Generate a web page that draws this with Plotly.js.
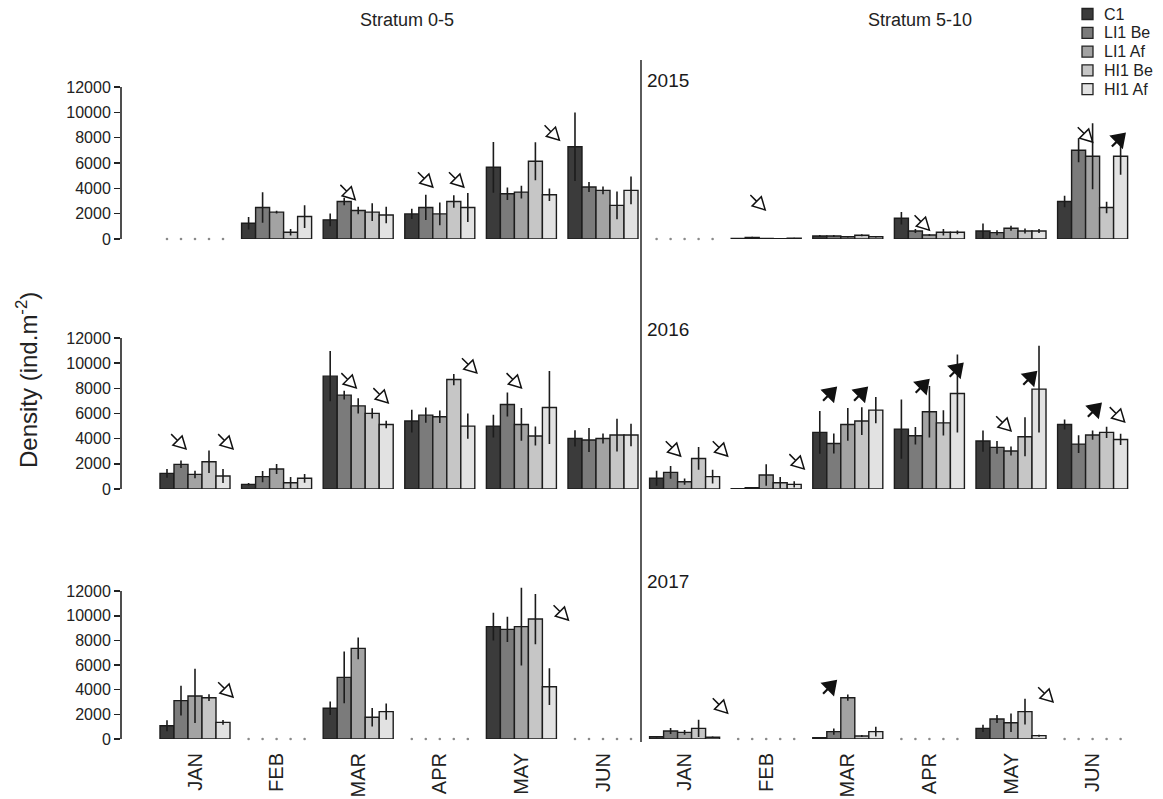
<!DOCTYPE html>
<html>
<head>
<meta charset="utf-8">
<script src="https://cdn.plot.ly/plotly-3.0.1.min.js"></script>
<style>html,body{margin:0;padding:0;background:#fff;}#chart{width:1163px;height:799px;}</style>
</head>
<body>
<div id="chart"></div>
<script>
// ---------------- DATA ----------------
const months = ['JAN','FEB','MAR','APR','MAY','JUN'];
const strata = ['Stratum 0-5','Stratum 5-10'];
const years = ['2015','2016','2017'];
const seriesNames = ['C1','LI1 Be','LI1 Af','HI1 Be','HI1 Af'];
const yTickVals = [0,2000,4000,6000,8000,10000,12000];
const yTickLabels = ['0','2000','4000','6000','8000','10000','12000'];

// each array: 6 months of Stratum 0-5 then 6 months of Stratum 5-10 (null = not sampled)
// 2015 means
const m2015_C1   = [null,1240,1510,1980,5660,7280,  null,50,240,1640,630,2960];
const m2015_LI1Be= [null,2490,2960,2490,3570,4100,  null,120,240,630,500,7010];
const m2015_LI1Af= [null,2120,2250,1980,3700,3840,  null,40,180,320,850,6530];
const m2015_HI1Be= [null,530,2120,2960,6140,2650,   null,30,300,530,630,2490];
const m2015_HI1Af= [null,1770,1900,2490,3490,3840,  null,60,180,530,630,6530];
// 2015 errors
const e2015_C1   = [null,500,500,400,2000,2700,  null,30,80,500,600,450];
const e2015_LI1Be= [null,1200,300,1000,500,400,  null,60,80,150,200,950];
const e2015_LI1Af= [null,100,300,900,500,300,    null,20,60,80,200,2600];
const e2015_HI1Be= [null,250,700,500,1500,1100,  null,20,80,250,200,450];
const e2015_HI1Af= [null,900,650,1150,500,1100,  null,40,60,150,150,1450];
// 2016 means
const m2016_C1   = [1240,370,8970,5400,5000,4020,  850,20,4500,4760,3810,5130];
const m2016_LI1Be= [1960,980,7460,5870,6720,3890,  1320,100,3620,4230,3310,3570];
const m2016_LI1Af= [1160,1590,6610,5740,5130,4020, 580,1110,5130,6140,3020,4290];
const m2016_HI1Be= [2170,500,6010,8700,4210,4290,  2430,500,5400,5260,4150,4500];
const m2016_HI1Af= [1030,850,5130,5000,6480,4290,  980,370,6270,7590,7940,3940];
// 2016 errors
const e2016_C1   = [350,100,2000,900,900,650,   600,10,1700,2350,850,400];
const e2016_LI1Be= [300,450,350,600,950,950,    500,40,800,700,500,700];
const e2016_LI1Af= [300,400,600,500,1300,400,   250,850,1300,2050,350,370];
const e2016_HI1Be= [900,450,400,450,750,1300,   900,450,1100,1000,1550,450];
const e2016_HI1Af= [550,350,300,1000,2900,900,  550,250,1050,3100,3450,450];
// 2017 means
const m2017_C1   = [1080,null,2490,null,9110,null,  190,null,100,null,860,null];
const m2017_LI1Be= [3110,null,5000,null,8890,null,  650,null,600,null,1620,null];
const m2017_LI1Af= [3490,null,7350,null,9110,null,  540,null,3350,null,1320,null];
const m2017_HI1Be= [3350,null,1760,null,9730,null,  860,null,240,null,2220,null];
const m2017_HI1Af= [1350,null,2220,null,4240,null,  140,null,600,null,270,null];
// 2017 errors
const e2017_C1   = [450,null,550,null,1130,null,   60,null,40,null,300,null];
const e2017_LI1Be= [1200,null,2100,null,1030,null, 250,null,250,null,330,null];
const e2017_LI1Af= [2200,null,880,null,3150,null,  200,null,250,null,750,null];
const e2017_HI1Be= [270,null,750,null,2040,null,   700,null,80,null,1050,null];
const e2017_HI1Af= [200,null,650,null,1490,null,   60,null,400,null,80,null];

// arrows: [yearIndex, monthSlot(0-11), value at arrow tip, kind]
const arrowYear  = [0,0,0,0,0,0,0,0, 1,1,1,1,1,1,1,1,1,1,1,1,1,1,1,1,1, 2,2,2,2,2];
const arrowSlot  = [2,3,3,4,7,9,11,11, 0,0,2,2,3,4,6,6,7,8,8,9,9,10,10,11,11, 0,4,6,8,10];
const arrowValue = [3100,4100,4100,7800,2300,700,7650,8300,
                    3180,3180,8030,6840,9220,8030,2620,2620,1590,8030,8030,8660,9940,4610,9300,6760,5330,
                    3400,9650,2100,4700,3000];
const arrowKind  = ['open','open','open','open','open','open','open','filled',
                    'open','open','open','open','open','open','open','open','open','filled','filled','filled','filled','open','filled','filled','open',
                    'open','open','open','filled','open'];
const arrowShift = [-3,-7,24,38,-1,0,0,32,
                    -9,38,-2,30,37,0,-4,43,38,-12,19,-1,33,0,25,8,32,
                    38,47,43,-12,42];

// ---------------- STYLE ----------------
const means = [
  [m2015_C1,m2015_LI1Be,m2015_LI1Af,m2015_HI1Be,m2015_HI1Af],
  [m2016_C1,m2016_LI1Be,m2016_LI1Af,m2016_HI1Be,m2016_HI1Af],
  [m2017_C1,m2017_LI1Be,m2017_LI1Af,m2017_HI1Be,m2017_HI1Af]];
const errs = [
  [e2015_C1,e2015_LI1Be,e2015_LI1Af,e2015_HI1Be,e2015_HI1Af],
  [e2016_C1,e2016_LI1Be,e2016_LI1Af,e2016_HI1Be,e2016_HI1Af],
  [e2017_C1,e2017_LI1Be,e2017_LI1Af,e2017_HI1Be,e2017_HI1Af]];
const colors = ['#3b3b3b','#7b7b7b','#a3a3a3','#c6c6c6','#e2e2e2'];
const W = 1163, H = 799;
const slots = [];
for (let i = 0; i < 12; i++) slots.push(i);
const tickText = months.concat(months);
const bargap = 0.142;
const barW = (1 - bargap) / seriesNames.length;

// pixel geometry
const axisPx = 121, rightPx = 1150, firstCenter = 195, step = 81.6;
const xDomain = [axisPx / W, rightPx / W];
const xRange = [(axisPx - firstCenter) / step, (rightPx - firstCenter) / step];
const rowBase = [239, 489, 739];
const rowScale = [12.67, 12.58, 12.33]; // px per 1000
const yMax = 13000;
const yDomains = rowBase.map((b, i) => [1 - b / H, 1 - (b - yMax / 1000 * rowScale[i]) / H]);

const traces = [];
for (let r = 0; r < 3; r++) {
  const xa = r === 0 ? 'x' : 'x' + (r + 1);
  const ya = r === 0 ? 'y' : 'y' + (r + 1);
  for (let s = 0; s < seriesNames.length; s++) {
    traces.push({
      type: 'bar', x: slots, y: means[r][s], name: seriesNames[s],
      xaxis: xa, yaxis: ya, showlegend: false,
      marker: {color: colors[s], line: {color: '#1c1c1c', width: 1.4}},
      error_y: {type: 'data', array: errs[r][s], symmetric: true, visible: true,
                thickness: 1.6, width: 0, color: '#1c1c1c'},
      hoverinfo: 'skip'
    });
  }
  // dots for months not sampled
  const dx = [], dy = [];
  slots.forEach(m => {
    const empty = means[r].every(arr => arr[m] === null);
    if (empty) {
      for (let s = 0; s < seriesNames.length; s++) {
        dx.push(m + (s - 2) * barW); dy.push(0);
      }
    }
  });
  traces.push({type: 'scatter', mode: 'markers', x: dx, y: dy, xaxis: xa, yaxis: ya,
    marker: {size: 2.6, color: '#8a8a8a'}, showlegend: false, hoverinfo: 'skip', cliponaxis: false});
}

function arrowPath(shift, kind) {
  const open = kind === 'open';
  const ang = open ? -Math.PI / 4 : Math.PI / 4;
  const d = [Math.cos(ang), Math.sin(ang)];
  const n = [-d[1], d[0]];
  const L = open ? 12 : 11, Wd = open ? 6.5 : 7.5, S = open ? 9 : 7;
  const tip = [shift, 0];
  const base = [tip[0] - d[0] * L, tip[1] - d[1] * L];
  const left = [base[0] + n[0] * Wd, base[1] + n[1] * Wd];
  const right = [base[0] - n[0] * Wd, base[1] - n[1] * Wd];
  const tail = [base[0] - d[0] * S, base[1] - d[1] * S];
  const f = p => p[0].toFixed(2) + ',' + p[1].toFixed(2);
  return 'M' + f(tail) + ' L' + f(base) + ' M' + f(left) + ' L' + f(tip) + ' L' + f(right) + ' Z';
}

const shapes = [];
// y axis lines 0..12000
for (let r = 0; r < 3; r++) {
  shapes.push({type: 'line', xref: 'paper', yref: r === 0 ? 'y' : 'y' + (r + 1),
    x0: axisPx / W, x1: axisPx / W, y0: 0, y1: 12000, line: {color: '#222', width: 1.6}});
}
// separator between strata
shapes.push({type: 'line', xref: 'paper', yref: 'paper', x0: 641 / W, x1: 641 / W,
  y0: 1 - 742 / H, y1: 1 - 60 / H, line: {color: '#333', width: 1.6}});
// arrows
for (let i = 0; i < arrowSlot.length; i++) {
  const r = arrowYear[i];
  const open = arrowKind[i] === 'open';
  shapes.push({type: 'path', xref: r === 0 ? 'x' : 'x' + (r + 1), yref: r === 0 ? 'y' : 'y' + (r + 1),
    xsizemode: 'pixel', ysizemode: 'pixel', xanchor: arrowSlot[i], yanchor: arrowValue[i],
    path: arrowPath(arrowShift[i], arrowKind[i]),
    fillcolor: open ? '#ffffff' : '#111111',
    line: {color: '#111111', width: open ? 1.5 : 2.2}});
}

const annotations = [
  {text: strata[0], xref: 'paper', yref: 'paper', x: 407 / W, y: 1 - 20 / H, xanchor: 'center', yanchor: 'middle',
   showarrow: false, font: {size: 18, color: '#222'}},
  {text: strata[1], xref: 'paper', yref: 'paper', x: 920 / W, y: 1 - 20 / H, xanchor: 'center', yanchor: 'middle',
   showarrow: false, font: {size: 18, color: '#222'}},
  {text: 'Density (ind.m<sup>-2</sup>)', xref: 'paper', yref: 'paper', x: 27 / W, y: 1 - 380 / H,
   xanchor: 'center', yanchor: 'middle', textangle: -90, showarrow: false, font: {size: 24, color: '#222'}}
];
const yearY = [81, 330, 581];
years.forEach((yr, i) => annotations.push({text: yr, xref: 'paper', yref: 'paper', x: 645 / W, y: 1 - yearY[i] / H,
  xanchor: 'left', yanchor: 'middle', showarrow: false, font: {size: 19, color: '#1a1a1a'}}));

// legend (drawn as swatches + labels)
const legTop = 14, legStep = 18.8, legSw = 11, legX = 1082;
seriesNames.forEach((nm, s) => {
  const cy = legTop + s * legStep;
  shapes.push({type: 'rect', xref: 'paper', yref: 'paper',
    x0: legX / W, x1: (legX + legSw) / W, y0: 1 - (cy + legSw / 2) / H, y1: 1 - (cy - legSw / 2) / H,
    fillcolor: colors[s], line: {color: '#222', width: 1.3}});
  annotations.push({text: nm, xref: 'paper', yref: 'paper', x: (legX + legSw + 9) / W, y: 1 - cy / H,
    xanchor: 'left', yanchor: 'middle', showarrow: false, font: {size: 16, color: '#222'}});
});

const layout = {
  width: W, height: H, margin: {l: 0, r: 0, t: 0, b: 0},
  paper_bgcolor: '#ffffff', plot_bgcolor: 'rgba(0,0,0,0)',
  font: {family: '"Liberation Sans", Arial, sans-serif', color: '#222'},
  barmode: 'group', bargap: bargap, bargroupgap: 0,
  hovermode: false,
  showlegend: false,
  shapes: shapes, annotations: annotations
};
for (let r = 0; r < 3; r++) {
  const xk = r === 0 ? 'xaxis' : 'xaxis' + (r + 1);
  const yk = r === 0 ? 'yaxis' : 'yaxis' + (r + 1);
  layout[xk] = {domain: xDomain, range: xRange, anchor: r === 0 ? 'y' : 'y' + (r + 1),
    showgrid: false, zeroline: false, showline: false, ticks: '', showticklabels: r === 2,
    fixedrange: true};
  if (r === 2) {
    Object.assign(layout[xk], {tickmode: 'array', tickvals: slots, ticktext: tickText, tickangle: -90,
      tickfont: {size: 20, color: '#222'}, ticklabelstandoff: 9});
  }
  layout[yk] = {domain: yDomains[r], range: [0, yMax], anchor: r === 0 ? 'x' : 'x' + (r + 1),
    showgrid: false, zeroline: false, showline: false, ticks: 'outside', ticklen: 6, tickwidth: 1.6,
    tickcolor: '#222', tickmode: 'array', tickvals: yTickVals, ticktext: yTickLabels,
    tickfont: {size: 16, color: '#222'}, fixedrange: true};
}

Plotly.newPlot('chart', traces, layout, {displayModeBar: false, staticPlot: true});
</script>
</body>
</html>
